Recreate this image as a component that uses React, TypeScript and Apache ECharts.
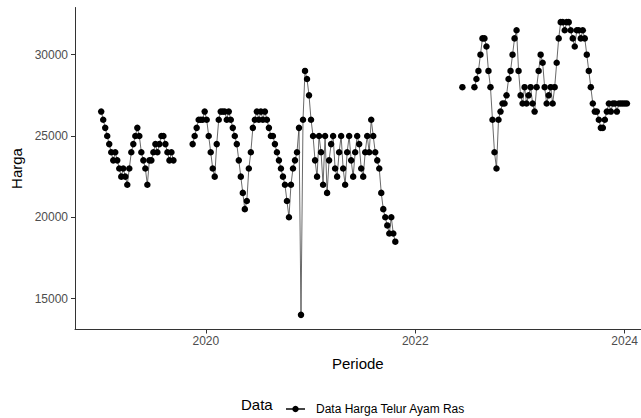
import React, { useEffect, useRef } from "react";
import * as echarts from "echarts";

// Weekly price series (Rp), three observed stretches separated by missing data
const segment1Start = "2019-01-01";
const segment1Values = [
  26500, 26000, 25500, 25000, 24500, 24000, 23500, 24000, 23500, 23000,
  22500, 23000, 22500, 22000, 23000, 24000, 24500, 25000, 25500, 25000,
  24000, 23500, 23000, 22000, 23500, 23500, 24000, 24500, 24000, 24500,
  25000, 25000, 24500, 24000, 23500, 24000, 23500,
];

const segment2Start = "2019-11-16";
const segment2Values = [
  24500, 25000, 25500, 26000, 26000, 26000, 26500, 26000, 25000, 24000,
  23000, 22500, 24500, 26000, 26500, 26500, 26500, 26000, 26500, 26000,
  25500, 25000, 24500, 23500, 22500, 21500, 20500, 21000, 23000, 24000,
  25500, 26000, 26500, 26000, 26500, 26000, 26500, 26000, 25500, 25000,
  25000, 24500, 24000, 23500, 23000, 22500, 22000, 21000, 20000, 22000,
  23000, 23500, 24000, 25500, 14000, 26000, 29000, 28500, 27500, 26000,
  25000, 23500, 22500, 25000, 24000, 22000, 25000, 21500, 23500, 24500,
  25000, 23000, 22500, 24000, 25000, 23000, 22000, 24000, 25000, 23500,
  22500, 24000, 25000, 24500, 23000, 22500, 24000, 25000, 24000, 26000,
  25000, 24000, 23500, 23000, 21500, 20500, 20000, 19500, 19000, 20000,
  19000, 18500,
];

const segment3Start = "2022-06-14";
const segment3Values: (number | null)[] = [
  28000, null, null, null, null, null, 28000, 28500, 29000, 30000,
  31000, 31000, 30500, 29000, 28000, 26000, 24000, 23000, 26000, 26500,
  27000, 27000, 27500, 28500, 29000, 30000, 31000, 31500, 29000, 27500,
  27000, 28000, 27000, 27500, 28000, 27000, 26500, 28000, 29000, 30000,
  29500, 28000, 27000, 27500, 28000, 27000, 28000, 29500, 31000, 32000,
  32000, 31500, 32000, 32000, 31500, 31000, 30500, 31500, 31500, 31000,
  31500, 31000, 30000, 29000, 28000, 27000, 26500, 26500, 26000, 25500,
  25500, 26000, 26500, 27000, 26500, 27000, 27000, 26500, 27000, 27000,
  27000, 27000, 27000,
];

const xTickYears = [2020, 2022, 2024];
const yTickValues = [15000, 20000, 25000, 30000];

const seriesName = "Data Harga Telur Ayam Ras";
const FONT = "'Liberation Sans', Arial, Helvetica, sans-serif";

const DAY = 86400000;
const toYear = (ms: number) => 1970 + ms / (365.2425 * DAY);

function weekly(start: string, values: (number | null)[]) {
  const t0 = Date.parse(start + "T00:00:00Z");
  return values.map((v, i) => [toYear(t0 + i * 7 * DAY), v == null ? "-" : v]);
}

function gapAfter(start: string, values: (number | null)[]) {
  const t0 = Date.parse(start + "T00:00:00Z");
  return [toYear(t0 + values.length * 7 * DAY), "-"];
}

export default function App() {
  const ref = useRef<HTMLDivElement>(null);

  useEffect(() => {
    if (!ref.current) return;
    const chart = echarts.init(ref.current, null, { renderer: "svg" });

    const data = [
      ...weekly(segment1Start, segment1Values),
      gapAfter(segment1Start, segment1Values),
      ...weekly(segment2Start, segment2Values),
      gapAfter(segment2Start, segment2Values),
      ...weekly(segment3Start, segment3Values),
    ];

    chart.setOption({
      animation: false,
      backgroundColor: "#ffffff",
      textStyle: { fontFamily: FONT },
      grid: { left: 75, top: 7.5, right: 0, height: 322, containLabel: false },
      xAxis: {
        type: "value",
        min: 2018.75,
        max: 2024.153,
        name: "Periode",
        nameLocation: "middle",
        nameGap: 26,
        nameTextStyle: { color: "#000", fontSize: 15, fontFamily: FONT },
        axisLine: { show: true, lineStyle: { color: "#333", width: 1 } },
        axisTick: {
          show: true,
          length: 4,
          customValues: xTickYears,
          lineStyle: { color: "#333", width: 1 },
        },
        axisLabel: {
          customValues: xTickYears,
          color: "#4d4d4d",
          fontSize: 12,
          margin: 5,
          fontFamily: FONT,
          formatter: (v: number) => String(Math.round(v)),
        },
        splitLine: { show: false },
      },
      yAxis: {
        type: "value",
        min: 13100,
        max: 32900,
        name: "Harga",
        nameLocation: "middle",
        nameGap: 50,
        nameTextStyle: { color: "#000", fontSize: 15, fontFamily: FONT },
        axisLine: { show: true, lineStyle: { color: "#333", width: 1 } },
        axisTick: {
          show: true,
          length: 4,
          customValues: yTickValues,
          lineStyle: { color: "#333", width: 1 },
        },
        axisLabel: {
          customValues: yTickValues,
          color: "#4d4d4d",
          fontSize: 12,
          margin: 7,
          fontFamily: FONT,
          formatter: (v: number) => String(v),
        },
        splitLine: { show: false },
      },
      legend: {
        left: 280,
        top: 398,
        itemWidth: 19,
        itemHeight: 8,
        textStyle: { color: "#000", fontSize: 12, fontFamily: FONT, padding: [0, 0, 0, 6] },
        data: [seriesName],
      },
      graphic: [
        {
          type: "text",
          left: 241,
          top: 397,
          style: { text: "Data", fill: "#000", fontSize: 15, fontFamily: FONT },
        },
      ],
      series: [
        {
          name: seriesName,
          type: "line",
          data,
          connectNulls: false,
          showSymbol: true,
          showAllSymbol: true,
          symbol: "circle",
          symbolSize: 6.5,
          itemStyle: { color: "#000" },
          lineStyle: { color: "#444", width: 0.8 },
          emphasis: { disabled: true },
        },
      ],
    });

    return () => chart.dispose();
  }, []);

  return (
    <div
      ref={ref}
      style={{ position: "fixed", left: 0, top: 0, width: 641, height: 418 }}
    />
  );
}
